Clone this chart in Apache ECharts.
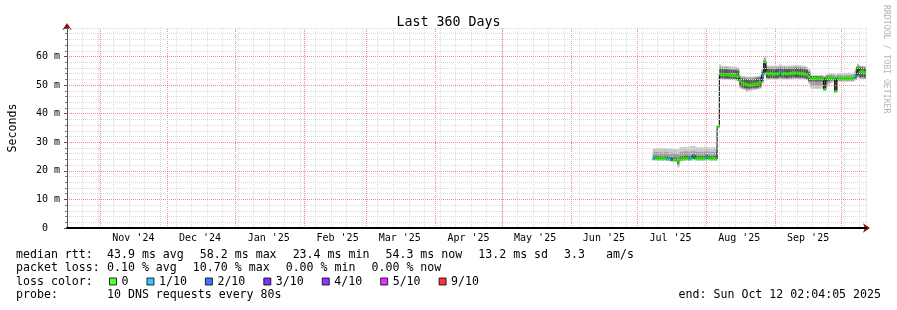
<!DOCTYPE html>
<html><head><meta charset="utf-8">
<script src="https://cdn.jsdelivr.net/npm/echarts@6/dist/echarts.min.js"></script>
<style>html,body{margin:0;padding:0;background:#fff}#c{width:897px;height:310px}</style>
</head><body><div id="c"></div>
<script>
// ---- data ----
const endLabel = 'end: Sun Oct 12 02:04:05 2025';
const titleText = 'Last 360 Days';
const monthStarts = ['2024-11-01','2024-12-01','2025-01-01','2025-02-01','2025-03-01','2025-04-01','2025-05-01','2025-06-01','2025-07-01','2025-08-01','2025-09-01','2025-10-01'];
const monthLabels = ["Nov '24","Dec '24","Jan '25","Feb '25","Mar '25","Apr '25","May '25","Jun '25","Jul '25","Aug '25","Sep '25"];
const yTicks = [0,10,20,30,40,50,60,70];
const dates = [
'2025-07-08','2025-07-09','2025-07-10','2025-07-11','2025-07-12','2025-07-13','2025-07-14','2025-07-15','2025-07-16','2025-07-17','2025-07-18','2025-07-19','2025-07-20','2025-07-21','2025-07-22','2025-07-23','2025-07-24','2025-07-25','2025-07-26','2025-07-27','2025-07-28','2025-07-29','2025-07-30','2025-07-31',
'2025-08-01','2025-08-02','2025-08-03','2025-08-04','2025-08-05','2025-08-06','2025-08-07','2025-08-08','2025-08-09','2025-08-10','2025-08-11','2025-08-12','2025-08-13','2025-08-14','2025-08-15','2025-08-16','2025-08-17','2025-08-18','2025-08-19','2025-08-20','2025-08-21','2025-08-22','2025-08-23','2025-08-24','2025-08-25','2025-08-26','2025-08-27','2025-08-28','2025-08-29','2025-08-30','2025-08-31',
'2025-09-01','2025-09-02','2025-09-03','2025-09-04','2025-09-05','2025-09-06','2025-09-07','2025-09-08','2025-09-09','2025-09-10','2025-09-11','2025-09-12','2025-09-13','2025-09-14','2025-09-15','2025-09-16','2025-09-17','2025-09-18','2025-09-19','2025-09-20','2025-09-21','2025-09-22','2025-09-23','2025-09-24','2025-09-25','2025-09-26','2025-09-27','2025-09-28','2025-09-29','2025-09-30',
'2025-10-01','2025-10-02','2025-10-03','2025-10-04','2025-10-05','2025-10-06','2025-10-07','2025-10-08','2025-10-09','2025-10-10','2025-10-11'];
// median rtt (ms)
const median = [
24.3,24.3,24.2,24.3,24.2,24.3,24.2,24.1,24.0,23.9,23.8,23.5,24.0,24.2,24.2,24.3,24.2,24.3,25.5,24.3,24.2,24.3,24.2,24.3,
24.8,24.3,24.2,24.3,24.2,35.5,53.8,53.7,53.6,53.7,53.6,53.5,53.4,53.3,53.0,51.5,50.8,50.5,50.2,50.0,50.1,50.2,50.4,50.6,51.0,53.5,58.2,54.2,53.9,54.0,53.8,
53.9,54.0,54.6,54.0,54.1,53.9,54.0,54.1,54.2,54.3,54.2,54.1,54.0,53.9,53.6,53.0,52.3,52.2,52.3,52.2,52.3,52.2,48.5,52.4,52.4,52.5,52.4,47.8,52.3,52.3,
52.2,52.3,52.2,52.3,52.2,52.4,53.1,56.3,54.6,54.6,54.3];
// lost pings out of 10
const loss = [
1,0,0,0,0,0,1,0,2,0,0,0,0,0,0,0,1,0,1,0,0,0,0,0,
1,0,0,0,0,0,0,0,0,0,0,0,0,0,0,0,0,0,0,0,0,0,0,0,0,1,0,0,0,0,0,
0,0,1,0,0,0,0,0,0,0,0,0,0,0,0,0,0,0,0,0,0,0,0,0,0,0,0,0,0,0,
0,0,0,0,0,0,1,0,0,0,0];
// smoke: outer (min/max), middle and core ping spread (ms)
const smokeMin = [
23.6,23.6,23.5,23.6,23.5,23.6,23.5,23.4,23.3,23.2,23.1,21.2,23.3,23.5,23.5,23.6,23.5,23.6,23.7,23.6,23.5,23.6,23.5,23.6,
23.6,23.6,23.5,23.6,23.5,35.2,52.0,51.9,51.9,51.9,51.8,51.8,51.7,51.6,51.2,48.9,48.5,48.3,47.6,48.0,48.2,48.3,48.4,48.5,48.8,50.5,53.5,52.0,51.9,52.0,51.9,
51.9,52.0,52.1,52.0,52.0,51.9,52.0,52.0,52.1,52.1,52.1,52.0,52.0,51.9,51.7,50.5,48.8,48.7,48.8,48.7,48.8,48.8,48.2,49.5,50.2,50.8,51.0,47.3,51.2,51.2,
51.2,51.3,51.2,51.3,51.2,51.3,51.8,52.6,52.2,52.2,52.1];
const smokeQ1 = [
23.8,23.8,23.7,23.8,23.7,23.8,23.7,23.6,23.5,23.4,23.3,21.8,23.6,23.7,23.7,23.8,23.7,23.8,24.0,23.8,23.7,23.8,23.7,23.8,
23.9,23.8,23.7,23.8,23.7,35.3,52.2,52.1,52.1,52.1,52.0,52.0,51.9,51.8,51.5,49.3,48.8,48.6,48.3,48.4,48.5,48.6,48.7,48.8,49.1,51.0,54.0,52.3,52.2,52.3,52.2,
52.2,52.3,52.4,52.3,52.3,52.2,52.3,52.3,52.4,52.4,52.4,52.3,52.3,52.2,52.0,51.0,50.0,50.0,50.1,50.0,50.0,50.0,48.4,50.5,50.8,51.2,51.4,47.6,51.5,51.5,
51.5,51.5,51.5,51.6,51.5,51.6,52.1,53.0,52.4,52.4,52.3];
const smokeCoreLo = [
23.9,24.0,23.9,24.0,23.9,24.0,23.9,23.8,23.7,23.6,23.5,22.6,23.8,23.9,23.9,24.0,23.9,24.0,24.2,24.0,23.9,24.0,23.9,24.0,
24.1,24.0,23.9,24.0,23.9,35.3,52.5,52.4,52.4,52.4,52.3,52.3,52.2,52.1,51.8,49.8,49.2,49.0,48.9,48.8,48.9,49.0,49.1,49.2,49.5,51.5,54.6,52.6,52.5,52.6,52.5,
52.5,52.6,52.8,52.6,52.6,52.5,52.6,52.6,52.7,52.7,52.7,52.6,52.6,52.5,52.3,51.5,51.3,51.3,51.3,51.3,51.3,51.2,48.6,51.3,51.5,51.7,51.8,48.0,51.8,51.8,
51.8,51.8,51.8,51.9,51.8,51.9,52.4,53.5,52.8,52.8,52.7];
const smokeCoreHi = [
25.0,25.1,25.0,25.1,24.9,25.0,25.0,24.9,24.8,24.7,24.6,24.3,25.0,25.1,25.1,25.2,25.1,25.2,25.9,25.2,25.1,25.2,25.1,25.2,
25.6,25.2,25.1,25.2,25.1,35.7,55.6,55.6,55.5,55.5,55.4,55.4,55.3,55.2,55.0,52.5,52.3,52.2,52.1,52.0,52.1,52.2,52.3,52.4,52.6,54.5,58.5,55.8,55.6,55.7,55.6,
55.6,55.7,55.9,55.7,55.8,55.6,55.7,55.8,55.8,55.9,55.8,55.8,55.7,55.6,55.3,54.5,53.1,53.0,53.1,53.0,53.1,53.0,52.6,53.0,53.0,53.0,52.9,52.5,52.8,52.8,
52.7,52.8,52.7,52.8,52.7,52.9,54.0,56.6,56.2,56.2,56.0];
const smokeQ3 = [
26.5,26.6,26.5,26.7,26.4,26.5,26.6,26.4,26.4,26.2,26.1,25.9,26.6,26.7,26.8,26.7,26.7,26.8,27.0,26.7,26.6,26.7,26.6,26.7,
26.8,26.7,26.6,26.7,26.6,35.7,56.3,56.2,56.1,56.2,56.1,56.0,55.9,55.8,55.6,52.9,52.8,52.7,52.6,52.6,52.6,52.7,52.8,52.9,53.1,55.2,59.3,56.4,56.2,56.3,56.2,
56.2,56.3,56.5,56.3,56.3,56.2,56.3,56.4,56.4,56.5,56.4,56.4,56.3,56.2,55.9,55.0,53.3,53.3,53.3,53.2,53.3,53.3,53.0,53.4,53.6,53.7,53.6,53.2,53.5,53.5,
53.4,53.5,53.4,53.5,53.5,53.6,55.0,57.0,56.5,56.5,56.4];
const smokeMax = [
27.8,27.9,28.0,28.0,27.9,28.0,27.9,27.8,27.9,27.7,27.6,27.6,28.3,28.3,28.4,28.3,28.4,28.8,28.8,28.4,28.2,28.3,28.2,28.3,
28.3,28.2,28.2,28.3,28.2,35.8,57.2,56.8,56.7,56.7,56.6,56.6,56.5,56.4,56.2,53.5,53.2,53.1,53.0,53.0,53.0,53.0,53.1,53.2,53.5,55.8,59.9,56.9,56.8,56.8,56.7,
56.8,56.8,57.2,56.8,56.9,56.8,56.8,56.9,56.9,57.0,56.9,56.9,56.8,56.7,56.4,55.6,53.4,53.4,53.4,53.4,53.5,53.4,53.3,53.8,54.0,54.2,54.2,53.8,54.3,54.3,
54.2,54.3,54.3,54.4,54.3,54.4,55.8,57.5,56.8,56.8,56.7];
const lossLevels = [0,1,2,3,4,5,9];
const lossNames = ['0','1/10','2/10','3/10','4/10','5/10','9/10'];
const lossColors = ['#26ff00','#00b8ff','#0059ff','#5e00ff','#7e00ff','#dd00ff','#ff0000'];
const rttStats = ['43.9 ms avg','58.2 ms max','23.4 ms min','54.3 ms now','13.2 ms sd','3.3   am/s'];
const lossStats = ['0.10 % avg','10.70 % max','0.00 % min','0.00 % now'];
const probeText = '10 DNS requests every 80s';
const watermark = 'RRDTOOL / TOBI OETIKER';

// ---- helpers ----
const START = Date.UTC(2024, 9, 17, 2, 4, 5);
const DAY = 86400000;
const SPAN = 360;
const YMAX = 70;
function dayOf(s){ const p = s.split('-').map(Number); return (Date.UTC(p[0], p[1]-1, p[2]) - START) / DAY; }
const monthDays = monthStarts.map(dayOf);
const labelDays = monthLabels.map((l, i) => monthDays[i] + 15);
const labelMap = {}; labelDays.forEach((d, i) => { labelMap[d.toFixed(4)] = monthLabels[i]; });
const WEEK0 = 2.55 - 7;

const MONO = 'DejaVu Sans Mono';
const FS = 11.6;
const GRID_MINOR = '#dcdcdc';
const GRID_MAJOR = '#f28c8c';
const smokeData = dates.map((d, i) => [dayOf(d), smokeMin[i], smokeQ1[i], smokeCoreLo[i], smokeCoreHi[i], smokeQ3[i], smokeMax[i]]);
const medianData = dates.map((d, i) => [dayOf(d) + 0.5, median[i]]);

const lossSeries = lossLevels.map((lv, k) => ({
  name: lossNames[k], type: 'scatter', z: 5, symbol: 'rect', symbolSize: [2.6, 3],
  itemStyle: { color: lossColors[k] }, silent: true,
  data: dates.map((d, i) => loss[i] === lv ? [dayOf(d) + 0.5, median[i]] : null).filter(Boolean)
}));

const majorColors = yTicks.map((v, i) => i === yTicks.length - 1 ? GRID_MINOR : GRID_MAJOR);

// texts at the bottom
const graphics = [];
function txt(x, y, s, align){ graphics.push({ type: 'text', x: x, y: y, silent: true, style: { text: s, font: FS + 'px "' + MONO + '"', fill: '#000', textAlign: align || 'left', textVerticalAlign: 'middle' } }); }
const COL = 107, CH = FS * 0.602, GAP = 16;
txt(16, 254.5, 'median rtt:');
let xx = COL; rttStats.forEach(s => { txt(xx, 254.5, s); xx += s.length * CH + GAP; });
txt(16, 268, 'packet loss:');
xx = COL; lossStats.forEach(s => { txt(xx, 268, s); xx += s.length * CH + GAP; });
txt(16, 281.5, 'loss color:');
txt(16, 295, 'probe:');
txt(COL, 295, probeText);
txt(881, 295, endLabel, 'right');
graphics.push({ type: 'text', x: 886, y: 5, rotation: -Math.PI / 2, silent: true,
  style: { text: watermark, font: '8.2px "' + MONO + '"', fill: '#b4b4b4', textAlign: 'left', textVerticalAlign: 'middle' } });

const chart = echarts.init(document.getElementById('c'), null, { renderer: 'canvas' });
chart.setOption({
  backgroundColor: '#fff',
  animation: false,
  title: { text: titleText, left: 'center', top: 11, textStyle: { fontFamily: MONO, fontSize: 13.3, fontWeight: 'normal', color: '#000' } },
  grid: { left: 67, top: 28, width: 799, height: 200, containLabel: false, outerBoundsMode: 'none' },
  legend: {
    data: lossNames, left: 109, top: 275.5, padding: 0, itemWidth: 7, itemHeight: 7, itemGap: 18, icon: 'rect', selectedMode: false,
    itemStyle: { borderColor: '#000', borderWidth: 1 },
    textStyle: { fontFamily: MONO, fontSize: FS, color: '#000' }
  },
  graphic: graphics,
  xAxis: [
    { type: 'value', min: 0, max: SPAN, z: 4, position: 'bottom', offset: 0,
      axisLine: { show: true, onZero: false, lineStyle: { color: '#000', width: 2 } },
      axisTick: { show: false }, splitLine: { show: false },
      axisLabel: { customValues: labelDays, margin: 5, fontFamily: MONO, fontSize: 10, color: '#000',
        formatter: v => labelMap[v.toFixed(4)] || '' } },
    { type: 'value', min: WEEK0, max: WEEK0 + SPAN, interval: 7, z: 0, position: 'bottom', offset: 0,
      axisLine: { show: false, onZero: false }, axisTick: { show: false }, axisLabel: { show: false },
      splitLine: { show: true, lineStyle: { color: GRID_MINOR, type: [1, 1], width: 1 } } },
    { type: 'value', min: 0, max: SPAN, z: 3, position: 'bottom', offset: 0,
      axisLine: { show: true, onZero: false, symbol: ['none', 'arrow'], symbolSize: [7, 7], symbolOffset: [0, 4], lineStyle: { color: '#8b1010', width: 1 } },
      axisTick: { show: false }, axisLabel: { show: false }, splitLine: { show: false } }
  ],
  yAxis: [
    { type: 'value', min: 0, max: YMAX, interval: 10, z: 4, position: 'left', offset: 0,
      axisLine: { show: true, onZero: false, lineStyle: { color: '#555', width: 1 } },
      axisTick: { show: true, length: 3, lineStyle: { color: '#555' } },
      minorTick: { show: true, splitNumber: 5, length: 2, lineStyle: { color: '#777' } },
      axisLabel: { margin: 7, fontFamily: MONO, fontSize: 10, color: '#000', formatter: v => v === 0 ? '0\u00a0\u00a0' : (v === YMAX ? '' : v + ' m') },
      splitLine: { show: true, lineStyle: { color: majorColors, type: [1, 1], width: 1 } },
      minorSplitLine: { show: true, lineStyle: { color: GRID_MINOR, type: [1, 1], width: 1 } },
      name: 'Seconds', nameLocation: 'middle', nameGap: 48, nameRotate: 90,
      nameTextStyle: { fontFamily: MONO, fontSize: FS, color: '#000' } },
    { type: 'value', min: 0, max: YMAX, z: 3, position: 'left', offset: 0,
      axisLine: { show: true, onZero: false, symbol: ['none', 'arrow'], symbolSize: [7, 7], symbolOffset: [0, 5], lineStyle: { color: '#8b1010', width: 1 } },
      axisTick: { show: false }, axisLabel: { show: false }, splitLine: { show: false } }
  ],
  series: [
    { name: 'months', type: 'custom', z: 1, silent: true,
      data: monthDays.map(d => [d, 0]), encode: { x: 0, y: 1 },
      renderItem: (params, api) => {
        const a = api.coord([api.value(0), 0]);
        const b = api.coord([api.value(0), YMAX]);
        const x = Math.round(a[0]) + 0.5;
        return { type: 'line', shape: { x1: x, y1: a[1], x2: x, y2: b[1] },
          style: { stroke: GRID_MAJOR, lineWidth: 1, lineDash: [1, 1], fill: null } };
      } },
    { name: 'smoke', type: 'custom', z: 2, silent: true, data: smokeData,
      encode: { x: 0, y: [1, 6] },
      renderItem: (params, api) => {
        const x0 = api.value(0);
        const band = (lo, hi, fill) => {
          const a = api.coord([x0, api.value(hi)]);
          const b = api.coord([x0 + 1, api.value(lo)]);
          return { type: 'rect', shape: { x: a[0], y: a[1], width: b[0] - a[0], height: b[1] - a[1] }, style: { fill: fill } };
        };
        return { type: 'group', children: [band(1, 6, '#c6c6c6'), band(2, 5, '#9c9c9c'), band(3, 4, '#555555')] };
      } },
    { name: 'median', type: 'line', z: 3, silent: true, step: 'middle', symbol: 'none',
      lineStyle: { color: '#000', width: 1 }, data: medianData }
  ].concat(lossSeries)
});
</script></body></html>
